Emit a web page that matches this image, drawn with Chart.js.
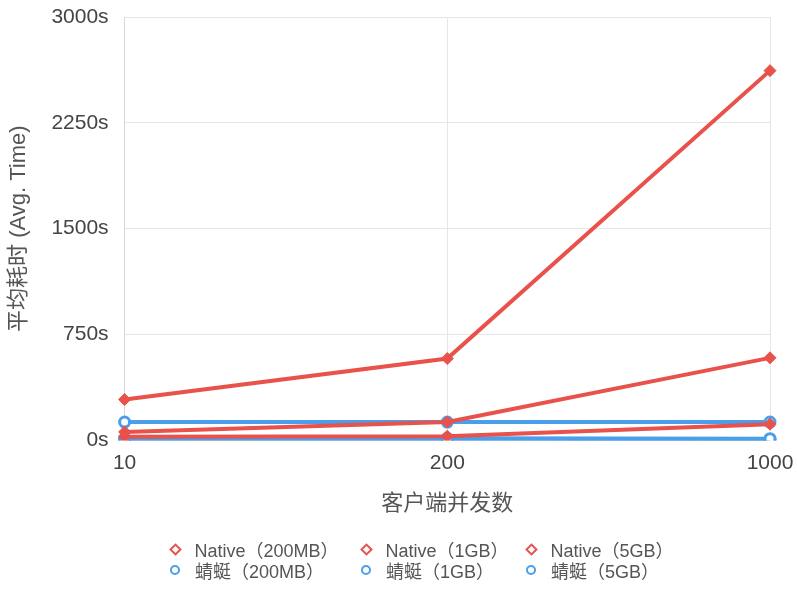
<!DOCTYPE html>
<html>
<head>
<meta charset="utf-8">
<script src="https://cdn.jsdelivr.net/npm/chart.js@4"></script>
<style>
  html, body { margin: 0; padding: 0; background: #fff; }
  body { width: 797px; height: 592px; overflow: hidden; font-family: "Liberation Sans", "Noto Sans CJK SC", sans-serif; }
  #wrap { position: relative; width: 797px; height: 521px; }
  #legend { position: absolute; left: 0; top: 0; width: 797px; height: 592px; pointer-events: none; }
  .item { position: absolute; display: flex; align-items: center; font-size: 18px; color: #555; white-space: nowrap; height: 22px; transform: translateY(-50%); }
  .mk { display: inline-block; box-sizing: border-box; background: #fff; }
  .dia { width: 9px; height: 9px; border: 2px solid #e9514b; transform: rotate(45deg); margin-left: -4.5px; margin-right: 15px; }
  .cir { width: 10px; height: 10px; border: 2.5px solid #4a9eea; border-radius: 50%; margin-left: -5px; margin-right: 15px; }
</style>
</head>
<body>
<div id="wrap"><canvas id="c"></canvas></div>
<div id="legend"></div>
<script>
// Concurrent client counts on the x axis
const categories = ['10', '200', '1000'];
const yTicks = [0, 750, 1500, 2250, 3000];

// Average time in seconds
const native200MB = [290, 580, 2620];
const native1GB = [60, 130, 585];
const native5GB = [25, 30, 115];
const qingting200MB = [130, 130, 130];
const qingting1GB = [15, 15, 12];
const qingting5GB = [8, 8, 8];

const seriesNames = ['Native（200MB）', 'Native（1GB）', 'Native（5GB）', '蜻蜓（200MB）', '蜻蜓（1GB）', '蜻蜓（5GB）'];

const RED = '#e9514b';
const BLUE = '#4a9eea';

function nativeSet(label, data) {
  return {
    label, data,
    borderColor: RED, backgroundColor: RED,
    borderWidth: 4,
    pointStyle: 'rectRot', pointRadius: 6, pointHoverRadius: 6,
    pointBackgroundColor: RED, pointBorderColor: RED, pointBorderWidth: 1,
    tension: 0
  };
}
function qtSet(label, data) {
  return {
    label, data,
    borderColor: BLUE, backgroundColor: BLUE,
    borderWidth: 4,
    pointStyle: 'circle', pointRadius: 5, pointHoverRadius: 5,
    pointBackgroundColor: '#fff', pointBorderColor: BLUE, pointBorderWidth: 3,
    tension: 0
  };
}

const datasets = [
  nativeSet(seriesNames[0], native200MB),
  nativeSet(seriesNames[1], native1GB),
  nativeSet(seriesNames[2], native5GB),
  qtSet(seriesNames[3], qingting200MB),
  qtSet(seriesNames[4], qingting1GB),
  qtSet(seriesNames[5], qingting5GB)
];

const FONT = '"Liberation Sans", "Noto Sans CJK SC", sans-serif';

new Chart(document.getElementById('c'), {
  type: 'line',
  data: { labels: categories, datasets },
  options: {
    responsive: true,
    maintainAspectRatio: false,
    animation: false,
    layout: { padding: { top: 0, right: 0, left: 6, bottom: 0 } },
    plugins: { legend: { display: false }, tooltip: { enabled: false } },
    scales: {
      x: {
        offset: false,
        afterFit: (axis) => { axis.paddingRight = 27; },
        grid: { color: '#e6e6e6', lineWidth: 1, drawTicks: false },
        border: { color: '#d8d8d8' },
        ticks: { color: '#444', font: { family: FONT, size: 21 }, padding: 10 },
        title: { display: true, text: '客户端并发数', color: '#555', font: { family: FONT, size: 22 }, padding: { top: 5, bottom: 4 } }
      },
      y: {
        min: 0, max: 3000,
        afterBuildTicks: (axis) => { axis.ticks = yTicks.map(v => ({ value: v })); },
        afterFit: (axis) => { axis.paddingTop = 17; axis.paddingBottom = 0; },
        grid: { color: '#e6e6e6', lineWidth: 1, drawTicks: false },
        border: { color: '#d8d8d8' },
        ticks: { color: '#444', font: { family: FONT, size: 21 }, padding: 16, callback: v => v + 's' },
        title: { display: true, text: '平均耗时 (Avg. Time)', color: '#555', font: { family: FONT, size: 22 }, padding: { top: 0, bottom: 3 } }
      }
    }
  }
});

// Legend laid out in three fixed columns (marker centre x, row centre y)
const legendCols = [175, 366, 531];
const legendRows = [549, 570];
const legend = document.getElementById('legend');
seriesNames.forEach((name, i) => {
  const el = document.createElement('div');
  el.className = 'item';
  el.style.left = legendCols[i % 3] + 'px';
  el.style.top = legendRows[Math.floor(i / 3)] + 'px';
  const mk = document.createElement('span');
  mk.className = 'mk ' + (i < 3 ? 'dia' : 'cir');
  el.appendChild(mk);
  el.appendChild(document.createTextNode(name));
  legend.appendChild(el);
});
</script>
</body>
</html>
